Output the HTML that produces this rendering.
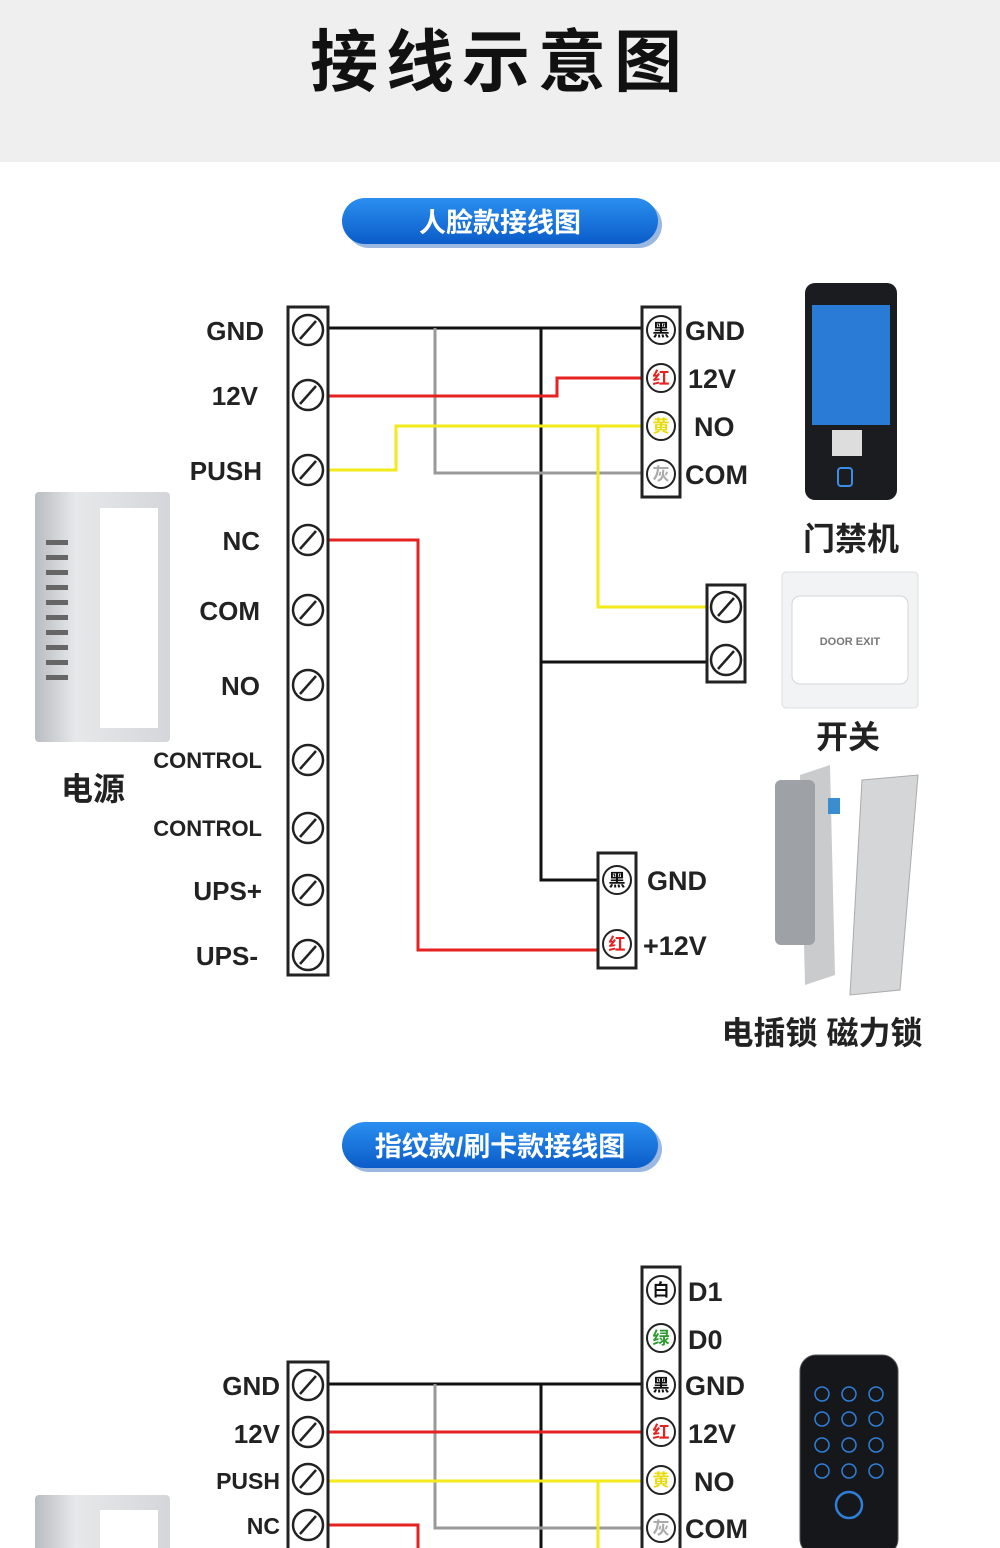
<!DOCTYPE html>
<html><head><meta charset="utf-8"><style>
body{margin:0;width:1000px;height:1548px;overflow:hidden;background:#fff}
svg{display:block}
text{font-family:"Liberation Sans","Noto Sans CJK SC",sans-serif;font-weight:bold}
</style></head><body>
<svg width="1000" height="1548" viewBox="0 0 1000 1548">
<defs>
<linearGradient id="pill" x1="0" y1="0" x2="0" y2="1"><stop offset="0" stop-color="#2a8ff0"/><stop offset="1" stop-color="#0b5cc8"/></linearGradient>
<linearGradient id="box" x1="0" y1="0" x2="1" y2="0"><stop offset="0" stop-color="#b9bcc0"/><stop offset="0.3" stop-color="#e6e8ea"/><stop offset="1" stop-color="#d4d6d9"/></linearGradient>
<g id="scr"><circle r="15" fill="#fff" stroke="#222" stroke-width="2.5"/><line x1="-8" y1="9" x2="8" y2="-9" stroke="#222" stroke-width="2.5"/></g>
</defs>
<rect x="0" y="0" width="1000" height="162" fill="#efefef"/>
<text x="500" y="86" font-size="68" text-anchor="middle" fill="#111" letter-spacing="8">接线示意图</text>

<rect x="346" y="202" width="316" height="46" rx="23" fill="#9ab8e0"/>
<rect x="342" y="198" width="316" height="46" rx="23" fill="url(#pill)"/>
<text x="500" y="232" font-size="27" text-anchor="middle" fill="#fff" font-weight="normal">人脸款接线图</text>

<!-- wires top -->
<g fill="none" stroke-width="3">
<polyline points="328,328 645,328" stroke="#111"/>
<polyline points="541,328 541,880 600,880" stroke="#111"/>
<polyline points="541,662 708,662" stroke="#111"/>
<polyline points="435,328 435,473 642,473" stroke="#999"/>
<polyline points="328,396 557,396 557,378 645,378" stroke="#e52222"/>
<polyline points="328,470 396,470 396,426 645,426" stroke="#f2ea1a"/>
<polyline points="598,426 598,607 708,607" stroke="#f2ea1a"/>
<polyline points="328,540 418,540 418,950 600,950" stroke="#e52222"/>
</g>
<rect x="288" y="307" width="40" height="668" fill="#fff" stroke="#222" stroke-width="3"/>
<g>
<use href="#scr" x="308" y="330"/><use href="#scr" x="308" y="395"/><use href="#scr" x="308" y="470"/><use href="#scr" x="308" y="540"/><use href="#scr" x="308" y="610"/><use href="#scr" x="308" y="685"/><use href="#scr" x="308" y="760"/><use href="#scr" x="308" y="828"/><use href="#scr" x="308" y="890"/><use href="#scr" x="308" y="955"/>
</g>
<g font-size="26" text-anchor="end" fill="#222">
<text x="264" y="340">GND</text><text x="258" y="405">12V</text><text x="262" y="480">PUSH</text><text x="260" y="550">NC</text><text x="260" y="620">COM</text><text x="260" y="695">NO</text>
<text x="262" y="768" font-size="22">CONTROL</text><text x="262" y="836" font-size="22">CONTROL</text><text x="262" y="900">UPS+</text><text x="258" y="965">UPS-</text>
</g>
<!-- right block top -->
<rect x="642" y="307" width="38" height="190" fill="#fff" stroke="#222" stroke-width="3"/>
<g font-size="17" text-anchor="middle">
<circle cx="661" cy="330" r="14" fill="#fff" stroke="#222" stroke-width="2"/><text x="661" y="336" fill="#111">黑</text>
<circle cx="661" cy="378" r="14" fill="#fff" stroke="#222" stroke-width="2"/><text x="661" y="384" fill="#e52222">红</text>
<circle cx="661" cy="426" r="14" fill="#fff" stroke="#222" stroke-width="2"/><text x="661" y="432" fill="#e6dc10">黄</text>
<circle cx="661" cy="474" r="14" fill="#fff" stroke="#222" stroke-width="2"/><text x="661" y="480" fill="#aaa">灰</text>
</g>
<g font-size="27" fill="#222"><text x="685" y="340">GND</text><text x="688" y="388">12V</text><text x="694" y="436">NO</text><text x="685" y="484">COM</text></g>
<!-- switch block -->
<rect x="707" y="585" width="38" height="97" fill="#fff" stroke="#222" stroke-width="3"/>
<use href="#scr" x="726" y="607"/><use href="#scr" x="726" y="660"/>
<!-- lock block -->
<rect x="598" y="853" width="38" height="115" fill="#fff" stroke="#222" stroke-width="3"/>
<g font-size="17" text-anchor="middle">
<circle cx="617" cy="880" r="14" fill="#fff" stroke="#222" stroke-width="2"/><text x="617" y="886" fill="#111">黑</text>
<circle cx="617" cy="944" r="14" fill="#fff" stroke="#222" stroke-width="2"/><text x="617" y="950" fill="#e52222">红</text>
</g>
<g font-size="27" fill="#222"><text x="647" y="890">GND</text><text x="643" y="955">+12V</text></g>

<!-- face device -->
<rect x="805" y="283" width="92" height="217" rx="10" fill="#1a1c20"/>
<rect x="812" y="305" width="78" height="120" fill="#2a7bd6"/>
<rect x="832" y="430" width="30" height="26" fill="#ddd"/>
<rect x="838" y="468" width="14" height="18" rx="3" fill="none" stroke="#3a8ee8" stroke-width="2"/>
<text x="851" y="550" font-size="32" text-anchor="middle" fill="#222">门禁机</text>
<!-- switch -->
<rect x="782" y="572" width="136" height="136" rx="4" fill="#f2f3f4" stroke="#ddd"/>
<rect x="792" y="596" width="116" height="88" rx="8" fill="#fff" stroke="#d5d5d5"/>
<text x="850" y="645" font-size="11" text-anchor="middle" fill="#777">DOOR EXIT</text>
<text x="848" y="748" font-size="32" text-anchor="middle" fill="#222">开关</text>
<!-- locks -->
<polygon points="800,775 830,765 835,975 805,985" fill="#c9cbcd"/>
<rect x="775" y="780" width="40" height="165" rx="6" fill="#9ea2a6"/>
<rect x="828" y="798" width="12" height="16" fill="#3a8ed0"/>
<polygon points="862,780 918,775 900,990 850,995" fill="#d4d6d8" stroke="#aaa"/>
<text x="822" y="1044" font-size="32" text-anchor="middle" fill="#222">电插锁 磁力锁</text>
<!-- power box -->
<rect x="35" y="492" width="135" height="250" rx="4" fill="url(#box)"/>
<rect x="100" y="508" width="58" height="220" fill="#fff"/>
<g fill="#666"><rect x="46" y="540" width="22" height="5"/><rect x="46" y="555" width="22" height="5"/><rect x="46" y="570" width="22" height="5"/><rect x="46" y="585" width="22" height="5"/><rect x="46" y="600" width="22" height="5"/><rect x="46" y="615" width="22" height="5"/><rect x="46" y="630" width="22" height="5"/><rect x="46" y="645" width="22" height="5"/><rect x="46" y="660" width="22" height="5"/><rect x="46" y="675" width="22" height="5"/></g>
<text x="93" y="800" font-size="32" text-anchor="middle" fill="#222">电源</text>

<!-- second section -->
<rect x="346" y="1126" width="316" height="46" rx="23" fill="#9ab8e0"/>
<rect x="342" y="1122" width="316" height="46" rx="23" fill="url(#pill)"/>
<text x="500" y="1156" font-size="27" text-anchor="middle" fill="#fff" font-weight="normal">指纹款/刷卡款接线图</text>

<g fill="none" stroke-width="3">
<polyline points="328,1384 645,1384" stroke="#111"/>
<polyline points="541,1384 541,1548" stroke="#111"/>
<polyline points="435,1384 435,1528 642,1528" stroke="#999"/>
<polyline points="328,1432 645,1432" stroke="#e52222"/>
<polyline points="328,1481 645,1481" stroke="#f2ea1a"/>
<polyline points="598,1481 598,1548" stroke="#f2ea1a"/>
<polyline points="328,1525 418,1525 418,1548" stroke="#e52222"/>
</g>
<rect x="288" y="1362" width="40" height="200" fill="#fff" stroke="#222" stroke-width="3"/>
<use href="#scr" x="308" y="1385"/><use href="#scr" x="308" y="1432"/><use href="#scr" x="308" y="1479"/><use href="#scr" x="308" y="1525"/>
<g font-size="26" text-anchor="end" fill="#222">
<text x="280" y="1395">GND</text><text x="280" y="1443">12V</text><text x="280" y="1489" font-size="23">PUSH</text><text x="280" y="1534" font-size="23">NC</text>
</g>
<rect x="642" y="1267" width="38" height="300" fill="#fff" stroke="#222" stroke-width="3"/>
<g font-size="17" text-anchor="middle">
<circle cx="661" cy="1290" r="14" fill="#fff" stroke="#222" stroke-width="2"/><text x="661" y="1296" fill="#111">白</text>
<circle cx="661" cy="1338" r="14" fill="#fff" stroke="#222" stroke-width="2"/><text x="661" y="1344" fill="#2a9a2a">绿</text>
<circle cx="661" cy="1385" r="14" fill="#fff" stroke="#222" stroke-width="2"/><text x="661" y="1391" fill="#111">黑</text>
<circle cx="661" cy="1432" r="14" fill="#fff" stroke="#222" stroke-width="2"/><text x="661" y="1438" fill="#e52222">红</text>
<circle cx="661" cy="1480" r="14" fill="#fff" stroke="#222" stroke-width="2"/><text x="661" y="1486" fill="#e6dc10">黄</text>
<circle cx="661" cy="1528" r="14" fill="#fff" stroke="#222" stroke-width="2"/><text x="661" y="1534" fill="#aaa">灰</text>
</g>
<g font-size="27" fill="#222"><text x="688" y="1301">D1</text><text x="688" y="1349">D0</text><text x="685" y="1395">GND</text><text x="688" y="1443">12V</text><text x="694" y="1491">NO</text><text x="685" y="1538">COM</text></g>
<!-- keypad -->
<rect x="800" y="1355" width="98" height="200" rx="16" fill="#15171b" stroke="#555"/>
<g fill="none" stroke="#2f7fd8" stroke-width="1.5">
<circle cx="822" cy="1394" r="7"/><circle cx="849" cy="1394" r="7"/><circle cx="876" cy="1394" r="7"/>
<circle cx="822" cy="1419" r="7"/><circle cx="849" cy="1419" r="7"/><circle cx="876" cy="1419" r="7"/>
<circle cx="822" cy="1445" r="7"/><circle cx="849" cy="1445" r="7"/><circle cx="876" cy="1445" r="7"/>
<circle cx="822" cy="1471" r="7"/><circle cx="849" cy="1471" r="7"/><circle cx="876" cy="1471" r="7"/>
<circle cx="849" cy="1505" r="13" stroke-width="2.5"/>
</g>
<rect x="35" y="1495" width="135" height="60" rx="4" fill="url(#box)"/>
<rect x="100" y="1510" width="58" height="45" fill="#fff"/>
</svg>
</body></html>
